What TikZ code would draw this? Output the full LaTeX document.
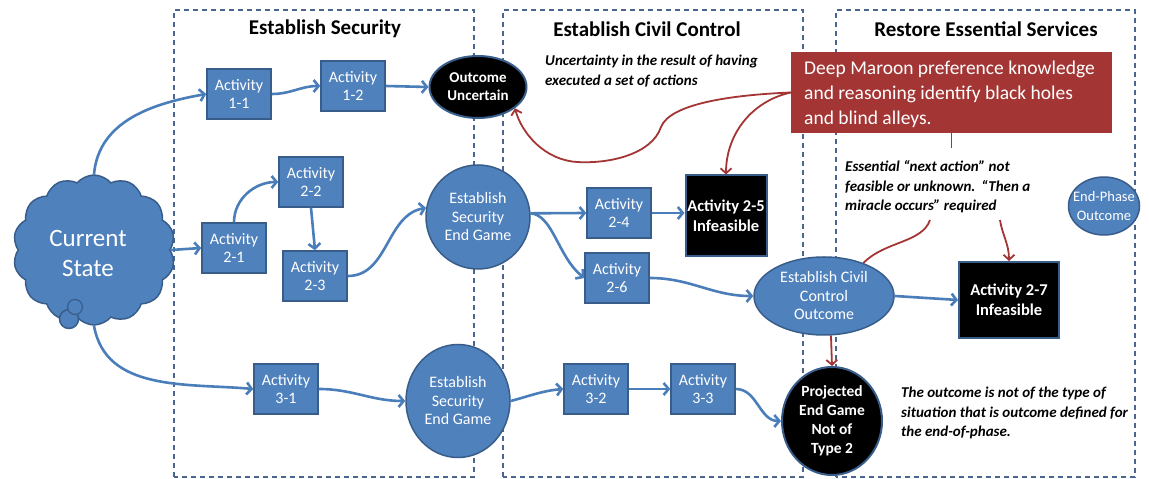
\documentclass[tikz,border=0pt]{standalone}
\usepackage{fontspec}
\setmainfont{Carlito}
\usetikzlibrary{shapes.symbols,shapes.geometric,arrows.meta}
\definecolor{bfill}{HTML}{4F81BD}
\definecolor{bdraw}{HTML}{385D8A}
\definecolor{bline}{HTML}{4A7EBB}
\definecolor{deepmaroon}{HTML}{A33634}
\definecolor{frmcol}{HTML}{4A6590}
\newcommand\fsz[2]{\fontsize{#1}{#2}\selectfont}
\begin{document}
\begin{tikzpicture}[x=1pt,y=1pt,
  act/.style={rectangle, fill=bfill, draw=bdraw, line width=1.5pt, minimum width=64pt, minimum height=50pt, inner sep=0pt, text=white, align=center, font=\fsz{16}{18.5}},
  blk/.style={rectangle, fill=black, draw=bdraw, line width=2pt, inner sep=0pt, text=white, align=center, font=\bfseries\fsz{16.5}{20}},
  bell/.style={ellipse, fill=bfill, draw=bdraw, line width=1.5pt, inner sep=0pt, text=white, align=center, font=\fsz{16}{18.5}},
  kell/.style={ellipse, fill=black, draw=bdraw, line width=2pt, inner sep=0pt, text=white, align=center, font=\bfseries\fsz{15.5}{19}},
  conn/.style={draw=bline, line width=2.6pt, -{Straight Barb[length=5pt,width=12pt]}},
  mconn/.style={draw=deepmaroon, line width=1.8pt},
  marr/.style={mconn, -{Straight Barb[length=5pt,width=11pt]}},
  frm/.style={draw=frmcol, line width=1.2pt, dash pattern=on 5pt off 4pt},
  ttl/.style={font=\bfseries\fsz{21}{24}},
  note/.style={font=\bfseries\itshape\fsz{15}{19.5}, align=left, anchor=west, inner sep=0pt}
]
\useasboundingbox (0,0) rectangle (1149,479);
\fill[white] (0,0) rectangle (1149,479);
% frames
\draw[frm] (174,2) rectangle (474,469);
\draw[frm] (503,2) rectangle (803,469);
\draw[frm] (836,2) rectangle (1135,469);
% titles
\node[ttl] (t1) at (325,450) {Establish Security};
\node[ttl] (t2) at (647,450) {Establish Civil Control};
\node[ttl] (t3) at (986,450) {Restore Essential Services};
% cloud
\node[cloud, cloud puffs=14, cloud puff arc=100, aspect=1.15, fill=bfill, draw=bdraw, line width=1.5pt, minimum width=162pt, minimum height=150pt, inner sep=0pt] (cs) at (94,229) {};
\node[circle, fill=bfill, draw=bdraw, line width=1.5pt, minimum size=19pt, inner sep=0pt] (sc1) at (69,160) {};
\node[circle, fill=bfill, draw=bdraw, line width=1.2pt, minimum size=15pt, inner sep=0pt] (sc2) at (75,172) {};
\node[text=white, font=\fsz{25}{30}, align=center] (cst) at (88,226) {Current\\State};
% activities
\node[act] (a11) at (239,385) {Activity\\1-1};
\node[act] (a12) at (353,393) {Activity\\1-2};
\node[kell, minimum width=97pt, minimum height=62pt, font=\bfseries\fsz{15}{18}] (ou) at (478,392) {Outcome\\Uncertain};
\node[act] (a22) at (311,297) {Activity\\2-2};
\node[act] (a21) at (234,231) {Activity\\2-1};
\node[act] (a23) at (315,203) {Activity\\2-3};
\node[bell, minimum width=104pt, minimum height=104pt] (es1) at (478,262) {Establish\\Security\\End Game};
\node[act] (a24) at (619,266) {Activity\\2-4};
\node[blk, minimum width=81pt, minimum height=81pt] (a25) at (726,263) {Activity 2-5\\Infeasible};
\node[act] (a26) at (617,201) {Activity\\2-6};
\node[bell, minimum width=140pt, minimum height=78pt] (cc) at (824,183) {Establish Civil\\Control\\Outcome};
\node[blk, minimum width=100pt, minimum height=76pt] (a27) at (1009,179) {Activity 2-7\\Infeasible};
\node[bell, minimum width=71pt, minimum height=58pt] (ep) at (1104,273) {};
\node[text=white, align=center, font=\fsz{14.5}{19}] (ept) at (ep.center) {End-Phase\\Outcome};
\node[act] (a31) at (286,90) {Activity\\3-1};
\node[bell, minimum width=104pt, minimum height=113pt] (es2) at (458,78) {Establish\\Security\\End Game};
\node[act] (a32) at (596,90) {Activity\\3-2};
\node[act] (a33) at (703,90) {Activity\\3-3};
\node[kell, minimum width=100pt, minimum height=108pt] (pe) at (832,58) {Projected\\End Game\\Not of\\Type 2};
% maroon box
\node[rectangle, fill=deepmaroon, minimum width=321pt, minimum height=81pt, inner sep=0pt] (mb) at (951.5,386.5) {};
\node[text=white, font=\fsz{19.5}{25}, align=left, anchor=west, inner sep=0pt] (mbt) at (804,385) {Deep Maroon preference knowledge\\and reasoning identify black holes\\and blind alleys.};
% notes
\node[note] (n1) at (545,408) {Uncertainty in the result of having\\executed a set of actions};
\node[note] (n2) at (845,292) {Essential “next action” not\\feasible or unknown.\ \,“Then a\\miracle occurs” required};
\node[note] (n3) at (901,66) {The outcome is not of the type of\\situation that is outcome defined for\\the end-of-phase.};
% blue connectors
\draw[conn] (cs.north) to[out=85,in=190] (a11.west);
\draw[conn] (a11.east) to[out=0,in=180] (a12.west);
\draw[conn] (a12.east) -- (ou.west);
\draw[conn] (cs.east) -- (a21.west);
\draw[conn] (a21.north) to[out=90,in=180] (a22.west);
\draw[conn] (a22.south) -- (a23.north);
\draw[conn] (a23.east) to[out=0,in=190] (es1.170);
\draw[conn] (es1.4) -- (a24.west);
\draw[conn] (es1.4) .. controls (553,264) and (558,222) .. (a26.west);
\draw[conn] (a24.east) -- (a24.east -| a25.west);
\draw[conn] (a26.east) to[out=0,in=180] (cc.west);
\draw[conn] (cc.east) -- (a27.west);
\draw[conn] (cs.south) to[out=-80,in=175] (a31.west);
\draw[conn] (a31.east) to[out=0,in=180] (es2.west);
\draw[conn] (es2.east) to[out=15,in=185] (a32.west);
\draw[conn] (a32.east) -- (a33.west);
\draw[conn] (a33.east) to[out=0,in=180] (pe.west);
% maroon connectors
\draw[marr] (mb.west) .. controls (730,384) and (670,375) .. (661,352) .. controls (652,325) and (610,315) .. (577,317) .. controls (545,319) and (522,345) .. (ou.-30);
\draw[marr] (mb.west) .. controls (752,378) and (726,345) .. (a25.north);
\coordinate (stub) at (951.5,331);
\draw[mconn] (mb.south) -- (stub);
\coordinate (d0) at (930,259);
\draw[mconn] (d0) .. controls (922,236) and (885,238) .. (cc.40);
\coordinate (e0) at (1000,259);
\draw[marr] (e0) .. controls (1002,245) and (1009,235) .. (a27.north);
\draw[marr] (cc.-80) -- (pe.north);
\end{tikzpicture}
\end{document}
